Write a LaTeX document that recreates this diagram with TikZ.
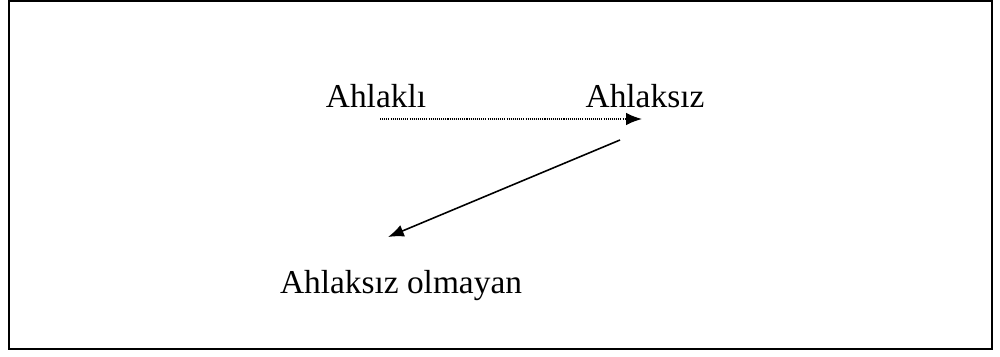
\documentclass[tikz,border=0pt]{standalone}
\usepackage{fontspec}
\setmainfont{Liberation Serif}
\usepackage{tikz}
\usetikzlibrary{arrows.meta}

\begin{document}
\begin{tikzpicture}[every node/.style={font=\fontsize{19}{22}\selectfont, anchor=base, inner sep=0pt}]
\useasboundingbox (0,0) rectangle (20,7.12);
\draw[line width=1.3pt] (0.18,0.14) rectangle (19.84,7.1);
\node (ahlakli) at (7.52,4.98) {Ahlaklı};
\node (ahlaksiz) at (12.9,4.98) {Ahlaksız};
\node (olmayan) at (8.02,1.26) {Ahlaksız olmayan};
\coordinate (p1) at (7.6,4.74);
\coordinate (p2) at (12.84,4.74);
\coordinate (q1) at (12.4,4.32);
\coordinate (q2) at (7.76,2.38);
\draw[-{Latex[length=9pt,width=7pt]}, dash pattern=on 0.6pt off 0.6pt, line width=0.8pt] (p1) -- (p2);
\draw[-{Latex[length=9pt,width=7pt]}, line width=0.9pt] (q1) -- (q2);
\end{tikzpicture}
\end{document}
